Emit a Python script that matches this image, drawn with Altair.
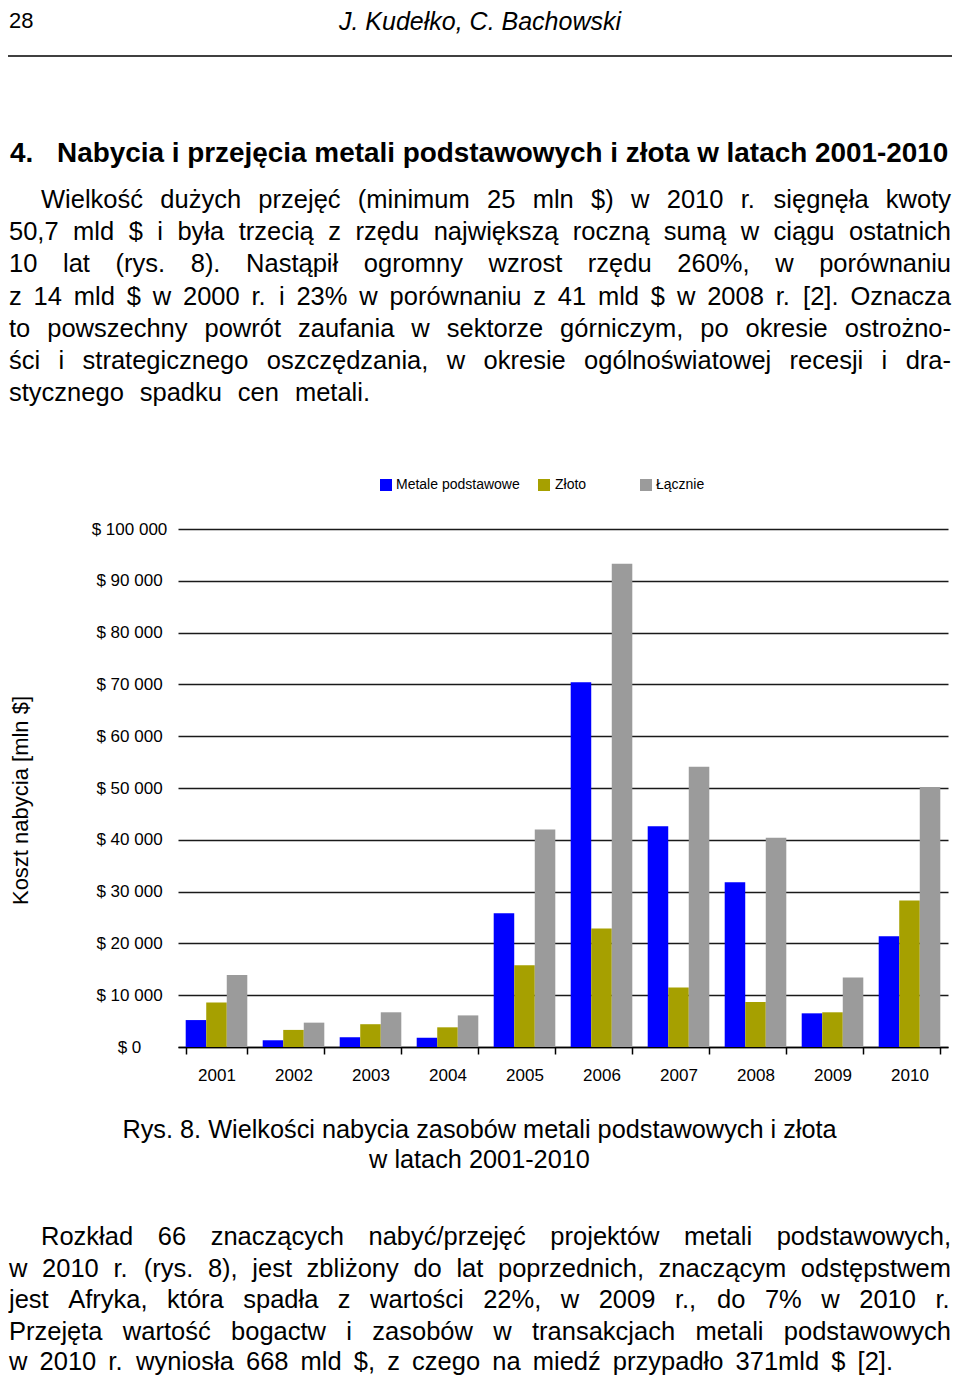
import altair as alt
import pandas as pd

# ---------------- data ----------------
years = ["2001", "2002", "2003", "2004", "2005", "2006", "2007", "2008", "2009", "2010"]
series = ["Metale podstawowe", "Złoto", "Łącznie"]
colors = ["#0000ff", "#a6a000", "#9b9b9b"]
metale_podstawowe = [5200, 1300, 1900, 1800, 25800, 70400, 42600, 31800, 6500, 21400]
zloto = [8600, 3300, 4400, 3800, 15800, 22900, 11500, 8700, 6700, 28300]
lacznie = [13900, 4700, 6700, 6100, 42000, 93300, 54100, 40400, 13400, 50200]
y_ticks = [0, 10000, 20000, 30000, 40000, 50000, 60000, 70000, 80000, 90000, 100000]
y_title = "Koszt nabycia [mln $]"

page_number = "28"
authors = "J. Kudełko, C. Bachowski"
heading_number = "4."
heading = "Nabycia i przejęcia metali podstawowych i złota w latach 2001-2010"
paragraph1 = [
    "Wielkość dużych przejęć (minimum 25 mln $) w 2010 r. sięgnęła kwoty",
    "50,7 mld $ i była trzecią z rzędu największą roczną sumą w ciągu ostatnich",
    "10 lat (rys. 8). Nastąpił ogromny wzrost rzędu 260%, w porównaniu",
    "z 14 mld $ w 2000 r. i 23% w porównaniu z 41 mld $ w 2008 r. [2]. Oznacza",
    "to powszechny powrót zaufania w sektorze górniczym, po okresie ostrożno-",
    "ści i strategicznego oszczędzania, w okresie ogólnoświatowej recesji i dra-",
    "stycznego spadku cen metali.",
]
caption = [
    "Rys. 8. Wielkości nabycia zasobów metali podstawowych i złota",
    "w latach 2001-2010",
]
paragraph2 = [
    "Rozkład 66 znaczących nabyć/przejęć projektów metali podstawowych,",
    "w 2010 r. (rys. 8), jest zbliżony do lat poprzednich, znaczącym odstępstwem",
    "jest Afryka, która spadła z wartości 22%, w 2009 r., do 7% w 2010 r.",
    "Przejęta wartość bogactw i zasobów w transakcjach metali podstawowych",
    "w 2010 r. wyniosła 668 mld $, z czego na miedź przypadło 371mld $ [2].",
]

# ---------------- layout (page pixels) ----------------
FONT = "Liberation Sans"
PLOT_X, PLOT_Y = 178, 529
PLOT_W, PLOT_H = 770, 518
SVG_W, SVG_H = 944, 1368
BODY_SIZE = 25.5
LEFT, RIGHT = 9, 951

# Helvetica/Arial advance widths (1/1000 em) for justification
W = {" ": 278, "!": 278, "$": 556, "%": 889, "(": 333, ")": 333, ",": 278, "-": 333,
     ".": 278, "/": 278, ":": 278, ";": 278, "[": 278, "]": 278,
     "A": 667, "B": 667, "C": 722, "D": 722, "E": 667, "F": 611, "G": 778, "H": 722,
     "I": 278, "J": 500, "K": 667, "L": 556, "M": 833, "N": 722, "O": 778, "P": 667,
     "Q": 778, "R": 722, "S": 667, "T": 611, "U": 722, "V": 667, "W": 944, "X": 667,
     "Y": 667, "Z": 611,
     "a": 556, "b": 556, "c": 500, "d": 556, "e": 556, "f": 278, "g": 556, "h": 556,
     "i": 222, "j": 222, "k": 500, "l": 222, "m": 833, "n": 556, "o": 556, "p": 556,
     "q": 556, "r": 333, "s": 500, "t": 278, "u": 556, "v": 500, "w": 722, "x": 500,
     "y": 500, "z": 500,
     "ą": 556, "ć": 500, "ę": 556, "ł": 222, "ń": 556, "ó": 556, "ś": 500, "ź": 500,
     "ż": 500, "Ł": 556, "Ż": 611, "Ś": 667}


def text_width(s, size):
    return sum(W.get(ch, 556) for ch in s) * size / 1000.0


def place_line(line, x0, x1, y, size):
    words = line.split(" ")
    widths = [text_width(w, size) for w in words]
    if len(words) > 1:
        gap = (x1 - x0 - sum(widths)) / (len(words) - 1)
    else:
        gap = 0
    out = []
    x = x0
    for w, wd in zip(words, widths):
        out.append({"t": w, "x": x - PLOT_X, "y": y - PLOT_Y})
        x += wd + gap
    return out


body_rows = []
p1_base = [208, 240.2, 272.4, 304.6, 336.8, 369, 401.2]
p1_x0 = [41, LEFT, LEFT, LEFT, LEFT, LEFT, LEFT]
p1_x1 = [RIGHT, RIGHT, RIGHT, RIGHT, RIGHT, RIGHT, 370]
for line, y, a, b in zip(paragraph1, p1_base, p1_x0, p1_x1):
    body_rows += place_line(line, a, b, y, BODY_SIZE)
p2_base = [1245, 1276.5, 1308, 1339.5, 1369.5]
p2_x0 = [41, LEFT, LEFT, LEFT, LEFT]
p2_x1 = [RIGHT, RIGHT, RIGHT, RIGHT, 893]
for line, y, a, b in zip(paragraph2, p2_base, p2_x0, p2_x1):
    body_rows += place_line(line, a, b, y, BODY_SIZE)
body_df = pd.DataFrame(body_rows)

caption_df = pd.DataFrame({"t": caption, "x": [479.5 - PLOT_X] * 2,
                           "y": [1138 - PLOT_Y, 1168 - PLOT_Y]})
heading_df = pd.DataFrame({"t": [heading_number, heading],
                           "x": [10 - PLOT_X, 57 - PLOT_X],
                           "y": [162 - PLOT_Y, 162 - PLOT_Y]})
author_df = pd.DataFrame({"t": [authors], "x": [480 - PLOT_X], "y": [30 - PLOT_Y]})
pagenum_df = pd.DataFrame({"t": [page_number], "x": [9 - PLOT_X], "y": [28 - PLOT_Y]})

# ---------------- bar data ----------------
rows = []
for i, yr in enumerate(years):
    for s, vals in zip(series, [metale_podstawowe, zloto, lacznie]):
        rows.append({"rok": yr, "seria": s, "wartosc": vals[i]})
df = pd.DataFrame(rows)

color_scale = alt.Scale(domain=series, range=colors)

bars = alt.Chart(df).mark_bar().encode(
    x=alt.X("rok:N", sort=years, title=None,
            scale=alt.Scale(paddingInner=0.2, paddingOuter=0.1),
            axis=alt.Axis(labelAngle=0, labelFont=FONT, labelFontSize=17, labelColor="#000",
                          labelPadding=13, tickBand="extent", tickSize=7, tickColor="#000",
                          tickWidth=1.5, domainColor="#000", domainWidth=1.5, grid=False)),
    xOffset=alt.XOffset("seria:N", sort=series),
    y=alt.Y("wartosc:Q", scale=alt.Scale(domain=[0, 100000], nice=False),
            axis=alt.Axis(values=y_ticks,
                          labelExpr="'$ ' + replace(format(datum.value, ','), regexp(',', 'g'), ' ')",
                          labelFont=FONT, labelFontSize=17, labelColor="#000",
                          labelAlign="center", labelBaseline="middle", labelPadding=49,
                          ticks=False, tickSize=0, domain=False,
                          grid=True, gridColor="#1a1a1a", gridWidth=1.5,
                          title=y_title, titleFont=FONT, titleFontSize=22,
                          titleFontWeight="normal", titleColor="#000",
                          titleX=20 - PLOT_X, titleY=800 - PLOT_Y, titleAngle=270,
                          titleAlign="center", titleBaseline="middle")),
    color=alt.Color("seria:N", scale=color_scale, legend=None),
)

legend_df = pd.DataFrame({"seria": series,
                          "sx": [386 - PLOT_X, 544 - PLOT_X, 646 - PLOT_X],
                          "tx": [396 - PLOT_X, 555 - PLOT_X, 656 - PLOT_X]})
legend_sq = alt.Chart(legend_df).mark_square(size=144, opacity=1).encode(
    x=alt.X("sx:Q", scale=None), y=alt.value(485 - PLOT_Y),
    color=alt.Color("seria:N", scale=color_scale, legend=None))
legend_tx = alt.Chart(legend_df).mark_text(
    align="left", baseline="middle", font=FONT, fontSize=14, color="#000").encode(
    x=alt.X("tx:Q", scale=None), y=alt.value(485 - PLOT_Y), text="seria:N")


def text_layer(d, **kw):
    return alt.Chart(d).mark_text(font=FONT, color="#000", baseline="alphabetic", **kw).encode(
        x=alt.X("x:Q", scale=None), y=alt.Y("y:Q", scale=None), text="t:N")


body = text_layer(body_df, align="left", fontSize=BODY_SIZE)
cap = text_layer(caption_df, align="center", fontSize=25.3)
head = text_layer(heading_df, align="left", fontSize=27.9, fontWeight="bold")
auth = text_layer(author_df, align="center", fontSize=25, fontStyle="italic")
pnum = text_layer(pagenum_df, align="left", fontSize=22)

header_rule = alt.Chart(pd.DataFrame({"a": [0]})).mark_rule(color="#000", strokeWidth=1.5).encode(
    x=alt.value(8 - PLOT_X), x2=alt.value(952 - PLOT_X), y=alt.value(56 - PLOT_Y))

chart = alt.layer(
    bars, legend_sq, legend_tx, body, cap, head, auth, pnum, header_rule
).properties(
    width=PLOT_W, height=PLOT_H,
    autosize=alt.AutoSizeParams(type="none"),
    padding={"left": PLOT_X - 8, "top": PLOT_Y - 8,
             "right": SVG_W - (PLOT_X - 8) - PLOT_W,
             "bottom": SVG_H - (PLOT_Y - 8) - PLOT_H},
    background="#ffffff",
).configure_view(stroke=None)

chart.save("out.html", embed_options={"renderer": "svg", "actions": False})
